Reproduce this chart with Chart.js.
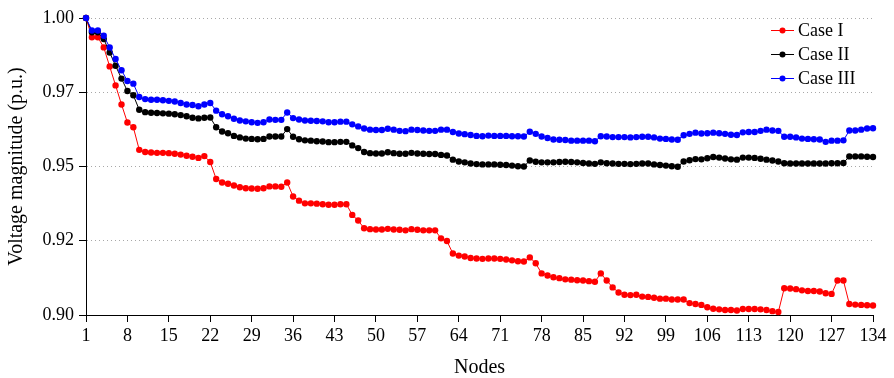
<!DOCTYPE html>
<html>
<head>
<meta charset="utf-8">
<script src="https://cdn.jsdelivr.net/npm/chart.js@4/dist/chart.umd.min.js"></script>
<style>
  html, body { margin: 0; padding: 0; background: #fff; }
  #wrap { width: 894px; height: 378px; }
</style>
</head>
<body>
<div id="wrap"><canvas id="c" width="894" height="378"></canvas></div>
<script>
const nodes = Array.from({ length: 134 }, (_, i) => i + 1);
const xTickValues = [1, 8, 15, 22, 29, 36, 43, 50, 57, 64, 71, 78, 85, 92, 99, 106, 113, 120, 127, 134];
const yTickLabels = ['0.90', '0.92', '0.95', '0.97', '1.00'];
const seriesNames = ['Case I', 'Case II', 'Case III'];

const caseI = [
  1.0000, 0.9935, 0.9935, 0.9901, 0.9837, 0.9773, 0.9709, 0.9648, 0.9632, 0.9556,
  0.9549, 0.9547, 0.9546, 0.9546, 0.9545, 0.9543, 0.9540, 0.9536, 0.9533, 0.9529,
  0.9535, 0.9515, 0.9458, 0.9446, 0.9442, 0.9436, 0.9430, 0.9427, 0.9426, 0.9425,
  0.9427, 0.9433, 0.9433, 0.9432, 0.9446, 0.9399, 0.9385, 0.9376, 0.9376, 0.9375,
  0.9373, 0.9371, 0.9371, 0.9373, 0.9373, 0.9337, 0.9318, 0.9292, 0.9289, 0.9288,
  0.9288, 0.9290, 0.9288, 0.9287, 0.9285, 0.9289, 0.9287, 0.9285, 0.9285, 0.9285,
  0.9258, 0.9249, 0.9207, 0.9200, 0.9197, 0.9192, 0.9190, 0.9189, 0.9190, 0.9190,
  0.9189, 0.9187, 0.9184, 0.9181, 0.9180, 0.9194, 0.9174, 0.9140, 0.9133, 0.9127,
  0.9124, 0.9120, 0.9119, 0.9117, 0.9116, 0.9114, 0.9112, 0.9140, 0.9116, 0.9093,
  0.9076, 0.9068, 0.9067, 0.9068, 0.9062, 0.9061, 0.9058, 0.9055, 0.9055, 0.9052,
  0.9052, 0.9052, 0.9040, 0.9037, 0.9034, 0.9026, 0.9021, 0.9019, 0.9017, 0.9017,
  0.9015, 0.9020, 0.9020, 0.9020, 0.9019, 0.9017, 0.9013, 0.9010, 0.9090, 0.9089,
  0.9087, 0.9083, 0.9081, 0.9081, 0.9079, 0.9073, 0.9071, 0.9116, 0.9116, 0.9037,
  0.9035, 0.9034, 0.9033, 0.9032
];

const caseII = [
  1.0000, 0.9952, 0.9952, 0.9929, 0.9884, 0.9839, 0.9796, 0.9754, 0.9740, 0.9691,
  0.9683, 0.9681, 0.9680, 0.9679, 0.9678, 0.9676, 0.9673, 0.9669, 0.9664, 0.9662,
  0.9664, 0.9665, 0.9632, 0.9618, 0.9612, 0.9603, 0.9598, 0.9594, 0.9593, 0.9592,
  0.9593, 0.9601, 0.9601, 0.9601, 0.9626, 0.9600, 0.9592, 0.9588, 0.9587, 0.9585,
  0.9584, 0.9582, 0.9582, 0.9583, 0.9583, 0.9571, 0.9562, 0.9549, 0.9545, 0.9544,
  0.9544, 0.9548, 0.9545, 0.9543, 0.9543, 0.9546, 0.9544, 0.9543, 0.9542, 0.9542,
  0.9539, 0.9537, 0.9523, 0.9517, 0.9514, 0.9510, 0.9508, 0.9507, 0.9507, 0.9507,
  0.9506, 0.9505, 0.9503, 0.9501, 0.9500, 0.9520, 0.9516, 0.9514, 0.9514, 0.9514,
  0.9515, 0.9516, 0.9515, 0.9514, 0.9512, 0.9510, 0.9509, 0.9514, 0.9511, 0.9510,
  0.9509, 0.9509, 0.9508, 0.9509, 0.9510, 0.9510, 0.9507, 0.9505, 0.9503, 0.9501,
  0.9499, 0.9517, 0.9521, 0.9525, 0.9524, 0.9528, 0.9532, 0.9530, 0.9527, 0.9524,
  0.9523, 0.9530, 0.9530, 0.9529, 0.9526, 0.9523, 0.9520, 0.9517, 0.9511, 0.9510,
  0.9510, 0.9510, 0.9510, 0.9510, 0.9510, 0.9510, 0.9511, 0.9511, 0.9512, 0.9534,
  0.9534, 0.9534, 0.9533, 0.9532
];

const caseIII = [
  1.0000, 0.9958, 0.9958, 0.9940, 0.9901, 0.9862, 0.9824, 0.9788, 0.9779, 0.9734,
  0.9727, 0.9725, 0.9725, 0.9723, 0.9721, 0.9719, 0.9714, 0.9709, 0.9707, 0.9703,
  0.9709, 0.9714, 0.9688, 0.9676, 0.9669, 0.9661, 0.9655, 0.9652, 0.9649, 0.9647,
  0.9649, 0.9658, 0.9657, 0.9657, 0.9682, 0.9663, 0.9658, 0.9655, 0.9654, 0.9653,
  0.9652, 0.9649, 0.9649, 0.9651, 0.9651, 0.9642, 0.9635, 0.9628, 0.9624, 0.9623,
  0.9623, 0.9627, 0.9624, 0.9620, 0.9619, 0.9624, 0.9623, 0.9621, 0.9620, 0.9620,
  0.9624, 0.9624, 0.9616, 0.9611, 0.9609, 0.9606, 0.9603, 0.9602, 0.9604, 0.9603,
  0.9603, 0.9603, 0.9602, 0.9602, 0.9601, 0.9617, 0.9610, 0.9601, 0.9596, 0.9591,
  0.9590, 0.9589, 0.9587, 0.9587, 0.9587, 0.9587, 0.9585, 0.9602, 0.9601, 0.9599,
  0.9599, 0.9599, 0.9598, 0.9599, 0.9600, 0.9600, 0.9598, 0.9594, 0.9593, 0.9591,
  0.9590, 0.9605, 0.9610, 0.9614, 0.9611, 0.9612, 0.9614, 0.9612, 0.9610, 0.9607,
  0.9606, 0.9615, 0.9616, 0.9616, 0.9620, 0.9624, 0.9621, 0.9620, 0.9600, 0.9600,
  0.9598, 0.9594, 0.9593, 0.9592, 0.9591, 0.9583, 0.9587, 0.9587, 0.9588, 0.9621,
  0.9621, 0.9624, 0.9628, 0.9629
];

const FONT = "'Liberation Serif', 'Times New Roman', serif";

function makeDataset(label, values, color, order) {
  return {
    label: label,
    data: values.map((v, i) => ({ x: nodes[i], y: v })),
    borderColor: color,
    backgroundColor: color,
    pointBackgroundColor: color,
    pointBorderColor: color,
    borderWidth: 1,
    pointRadius: 3.2,
    pointBorderWidth: 0,
    pointHoverRadius: 3.2,
    tension: 0,
    clip: false,
    order: order
  };
}

const legendPlugin = {
  id: 'customLegend',
  afterDatasetsDraw(chart) {
    const ctx = chart.ctx;
    const rows = [30, 54, 78];
    ctx.save();
    chart.data.datasets.forEach((ds, i) => {
      const y = rows[i];
      ctx.strokeStyle = ds.borderColor;
      ctx.fillStyle = ds.borderColor;
      ctx.lineWidth = 1;
      ctx.beginPath();
      ctx.moveTo(771, y + 0.5);
      ctx.lineTo(794, y + 0.5);
      ctx.stroke();
      ctx.beginPath();
      ctx.arc(782.5, y + 0.5, 3, 0, Math.PI * 2);
      ctx.fill();
      ctx.fillStyle = '#000';
      ctx.font = '18px ' + FONT;
      ctx.textBaseline = 'middle';
      ctx.textAlign = 'left';
      ctx.fillText(ds.label, 798, y + 1);
    });
    ctx.restore();
  }
};

new Chart(document.getElementById('c'), {
  type: 'line',
  data: {
    datasets: [
      makeDataset(seriesNames[0], caseI, '#ff0000', 2),
      makeDataset(seriesNames[1], caseII, '#000000', 1),
      makeDataset(seriesNames[2], caseIII, '#0000ff', 0)
    ]
  },
  options: {
    responsive: false,
    devicePixelRatio: 1,
    animation: false,
    layout: { padding: { top: 18, right: 21, bottom: 0, left: 0 } },
    plugins: {
      legend: { display: false },
      tooltip: { enabled: false }
    },
    scales: {
      x: {
        type: 'linear',
        min: 1,
        max: 134,
        afterBuildTicks(scale) {
          scale.ticks = xTickValues.map(v => ({ value: v }));
        },
        afterFit(scale) { scale.height = 63; },
        ticks: {
          color: '#000',
          font: { family: FONT, size: 18 },
          padding: 3,
          maxRotation: 0,
          autoSkip: false,
          callback: (v) => String(v)
        },
        grid: {
          display: true,
          drawOnChartArea: false,
          drawTicks: true,
          tickLength: 7,
          tickColor: '#000',
          tickBorderDash: []
        },
        border: { display: true, color: '#000', width: 1 },
        title: {
          display: true,
          text: 'Nodes',
          color: '#000',
          font: { family: FONT, size: 20, lineHeight: 1 },
          padding: { top: 0, bottom: 0 }
        }
      },
      y: {
        type: 'linear',
        min: 0.9,
        max: 1.0,
        afterFit(scale) { scale.width = 86; },
        ticks: {
          stepSize: 0.025,
          color: '#000',
          font: { family: FONT, size: 18 },
          padding: 5,
          callback: (v, i) => yTickLabels[i]
        },
        grid: {
          display: true,
          drawOnChartArea: true,
          drawTicks: true,
          tickLength: 7,
          tickColor: '#000',
          tickBorderDash: [],
          color: '#a8a8a8',
          lineWidth: 1
        },
        border: { display: true, color: '#000', width: 1, dash: [1, 3] },
        title: {
          display: true,
          text: 'Voltage magnitude (p.u.)',
          color: '#000',
          font: { family: FONT, size: 20 },
          padding: { top: 5, bottom: 0 }
        }
      }
    }
  },
  plugins: [legendPlugin]
});
</script>
</body>
</html>
